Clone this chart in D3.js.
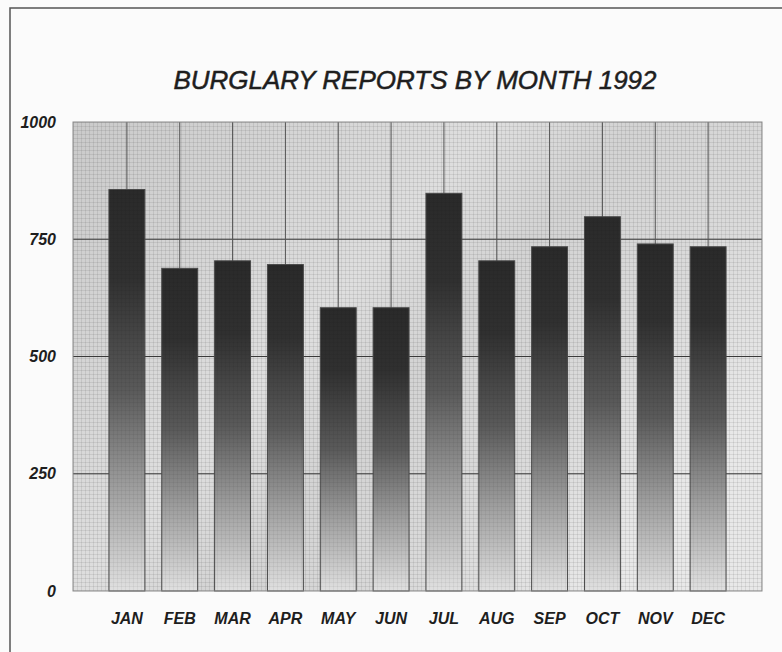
<!DOCTYPE html>
<html>
<head>
<meta charset="utf-8">
<script src="https://cdn.jsdelivr.net/npm/d3@7"></script>
<style>
    body { margin: 0; background: #fbfbfb; }
    text { font-family: "Liberation Sans", Arial, sans-serif; font-style: italic; fill: #1e1e1e; }
</style>
</head>
<body>
<svg id="chartSvg" width="782" height="652"></svg>
<script>
var months = ["JAN", "FEB", "MAR", "APR", "MAY", "JUN", "JUL", "AUG", "SEP", "OCT", "NOV", "DEC"];
var reports = [856, 688, 704, 696, 604, 604, 848, 704, 734, 798, 740, 734];
var yTicks = [0, 250, 500, 750, 1000];
var chartTitle = "BURGLARY REPORTS BY MONTH 1992";

var svg = d3.select("#chartSvg");
var margin = {top: 122, right: 20, bottom: 61, left: 73};
var width = +svg.attr("width") - margin.left - margin.right;
var height = +svg.attr("height") - margin.top - margin.bottom;

var defs = svg.append("defs");

// halftone-ish screen used over the plot and the bars
var pat = defs.append("pattern")
        .attr("id", "screen")
        .attr("width", 4)
        .attr("height", 4)
        .attr("patternUnits", "userSpaceOnUse");
pat.append("path")
        .attr("d", "M0,0.5H4M0.5,0V4")
        .attr("stroke", "#000")
        .attr("stroke-opacity", 0.08)
        .attr("stroke-width", 1);

var bg = defs.append("linearGradient")
        .attr("id", "plotBg")
        .attr("x1", 0).attr("y1", 0)
        .attr("x2", 1).attr("y2", 0.6);
[[0, "#cacaca"], [0.25, "#d5d5d5"], [0.45, "#dedede"], [0.6, "#d3d3d3"], [0.8, "#dadada"], [1, "#e8e8e8"]]
        .forEach(function (s) {
            bg.append("stop").attr("offset", s[0]).attr("stop-color", s[1]);
        });

var barGrad = defs.append("linearGradient")
        .attr("id", "barFill")
        .attr("x1", 0).attr("y1", 0)
        .attr("x2", 0).attr("y2", 1);
[[0, "#2a2a2a"], [0.22, "#303030"], [0.5, "#5a5a5a"], [0.75, "#a0a0a0"], [1, "#e0e0e0"]]
        .forEach(function (s) {
            barGrad.append("stop").attr("offset", s[0]).attr("stop-color", s[1]);
        });

// frame of the scanned page
svg.append("path")
        .attr("d", "M10,652V8H782")
        .attr("fill", "none")
        .attr("stroke", "#555")
        .attr("stroke-width", 1.5);

svg.append("text")
        .attr("x", 415)
        .attr("y", 89)
        .attr("text-anchor", "middle")
        .attr("stroke", "#1e1e1e")
        .attr("stroke-width", 0.5)
        .style("font-size", "26px")
        .text(chartTitle);

var g = svg.append("g").attr("transform", "translate(" + margin.left + "," + margin.top + ")");

var x = d3.scaleBand()
        .domain(months)
        .range([0, width])
        .paddingInner(0.32)
        .paddingOuter(0.68);

var y = d3.scaleLinear()
        .domain([0, 1000])
        .range([height, 0]);

g.append("rect")
        .attr("width", width)
        .attr("height", height)
        .attr("fill", "url(#plotBg)");
g.append("rect")
        .attr("width", width)
        .attr("height", height)
        .attr("fill", "url(#screen)");

g.append("g")
        .selectAll("line")
        .data(yTicks.slice(1, -1))
        .join("line")
        .attr("x1", 0)
        .attr("x2", width)
        .attr("y1", function (d) { return y(d); })
        .attr("y2", function (d) { return y(d); })
        .attr("stroke", "#3a3a3a")
        .attr("stroke-width", 1);

g.append("g")
        .selectAll("line")
        .data(months)
        .join("line")
        .attr("x1", function (d) { return x(d) + x.bandwidth() / 2; })
        .attr("x2", function (d) { return x(d) + x.bandwidth() / 2; })
        .attr("y1", 0)
        .attr("y2", height)
        .attr("stroke", "#555")
        .attr("stroke-width", 1);

var bars = g.append("g")
        .selectAll("g")
        .data(reports)
        .join("g");

bars.append("rect")
        .attr("x", function (d, i) { return x(months[i]); })
        .attr("y", function (d) { return y(d); })
        .attr("width", x.bandwidth())
        .attr("height", function (d) { return height - y(d); })
        .attr("fill", "url(#barFill)")
        .attr("stroke", "#4a4a4a")
        .attr("stroke-width", 1);

bars.append("rect")
        .attr("x", function (d, i) { return x(months[i]); })
        .attr("y", function (d) { return y(d); })
        .attr("width", x.bandwidth())
        .attr("height", function (d) { return height - y(d); })
        .attr("fill", "url(#screen)")
        .attr("opacity", 0.6);

g.append("rect")
        .attr("width", width)
        .attr("height", height)
        .attr("fill", "none")
        .attr("stroke", "#8a8a8a")
        .attr("stroke-width", 1);

var yAxis = g.append("g")
        .attr("class", "axis-y")
        .call(d3.axisLeft(y).tickValues(yTicks).tickFormat(d3.format("d")).tickSize(0).tickPadding(17));
yAxis.select(".domain").remove();
yAxis.selectAll("text")
        .style("font-size", "16px")
        .style("font-weight", "bold")
        .style("font-family", "'Liberation Sans', Arial, sans-serif");

var xAxis = g.append("g")
        .attr("class", "axis-x")
        .attr("transform", "translate(0," + height + ")")
        .call(d3.axisBottom(x).tickSize(0).tickPadding(22));
xAxis.select(".domain").remove();
xAxis.selectAll("text")
        .style("font-size", "16px")
        .style("font-weight", "bold")
        .style("font-family", "'Liberation Sans', Arial, sans-serif");
</script>
</body>
</html>
